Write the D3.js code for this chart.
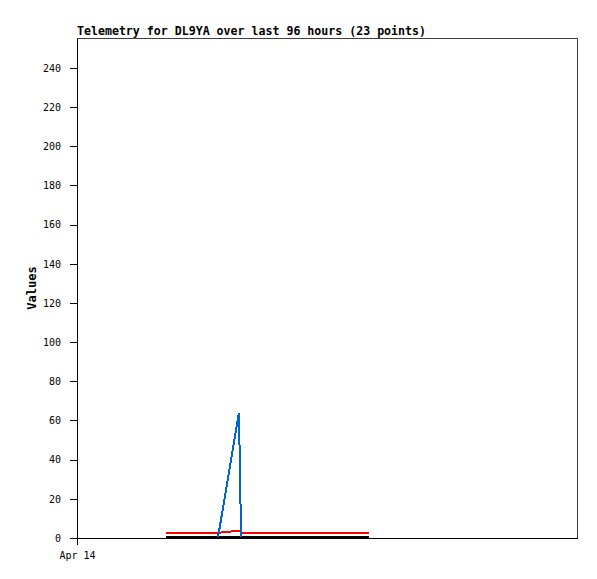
<!DOCTYPE html>
<html><head><meta charset="utf-8">
<script src="https://cdn.jsdelivr.net/npm/d3@7"></script>
<style>body{margin:0;background:#fff}svg{display:block}</style>
</head><body>
<svg id="c" width="597" height="579"></svg>
<script>
// hours since Apr 14 00:00
const hours = [17.1,19.0,21.0,23.0,25.0,27.1,28.0,29.0,30.1,31.1,31.5,31.7,33.5,35.5,37.5,39.5,41.5,43.5,46.0,48.5,51.0,53.5,56.1];
const blueVals = [null,null,null,null,null,0.7,null,null,null,64,0.7,null,null,null,null,null,null,null,null,null,null,null,null];
const redVals = [2.5,2.5,2.5,2.5,2.5,2.5,3.0,3.0,3.6,3.6,3.6,2.5,2.5,2.5,2.5,2.5,2.5,2.5,2.5,2.5,2.5,2.5,2.5];
const blackVals = [0.3,0.3,0.3,0.3,0.3,0.3,0.3,0.3,0.3,0.3,0.3,0.3,0.3,0.3,0.3,0.3,0.3,0.3,0.3,0.3,0.3,0.3,0.3];
const yTicks = [0,20,40,60,80,100,120,140,160,180,200,220,240];
const xTickLabels = ["Apr 14"];
const titleText = "Telemetry for DL9YA over last 96 hours (23 points)";

const t0 = new Date(2024,3,14,0,0,0);
const times = hours.map(h => new Date(t0.getTime() + h*3600e3));
const L=77,R=577,T=38,B=538;
const svg = d3.select("#c");
const x = d3.scaleTime().domain([t0, new Date(t0.getTime()+96*3600e3)]).range([L,R]);
const y = d3.scaleLinear().domain([0,255.3]).range([B,T]);
const mono = "'DejaVu Sans Mono', monospace";

// frame top/right
svg.append("path").attr("d",`M${L},${T+0.5}H${R+0.5}V${B}`).attr("fill","none").attr("stroke","#404040").attr("shape-rendering","crispEdges");

// y axis
const ya = svg.append("g").attr("transform",`translate(${L},0)`)
  .call(d3.axisLeft(y).tickValues(yTicks).tickSize(7).tickPadding(9).tickSizeOuter(0));
ya.select(".domain").attr("stroke","#000").attr("shape-rendering","crispEdges");
ya.selectAll(".tick line").attr("stroke","#000").attr("shape-rendering","crispEdges");
ya.selectAll("text").attr("font-family",mono).attr("font-size","10px").attr("fill","#000");

// x axis
const xa = svg.append("g").attr("transform",`translate(0,${B})`)
  .call(d3.axisBottom(x).tickValues([t0]).tickFormat((d,i)=>xTickLabels[i]).tickSize(7).tickPadding(7).tickSizeOuter(0));
xa.select(".domain").attr("stroke","#000").attr("shape-rendering","crispEdges");
xa.selectAll(".tick line").attr("stroke","#000").attr("shape-rendering","crispEdges");
xa.selectAll("text").attr("font-family",mono).attr("font-size","10px").attr("fill","#000");

// series: connect the points that are present
function draw(vals,color){
  const pts = vals.map((v,i)=>[times[i],v]).filter(p=>p[1]!==null);
  const line = d3.line().x(p=>x(p[0])).y(p=>y(p[1]));
  svg.append("path").datum(pts).attr("d",line).attr("fill","none").attr("stroke",color)
    .attr("stroke-width",2).attr("shape-rendering","crispEdges");
}
draw(blackVals,"#000000");
draw(redVals,"#ff0000");
draw(blueVals,"#0066cc");

// title
svg.append("text").attr("x",L).attr("y",35).text(titleText)
  .attr("font-family",mono).attr("font-size","11.6px").attr("font-weight","bold");
// y label
svg.append("text").attr("transform",`translate(36,${(T+B)/2}) rotate(-90)`).attr("text-anchor","middle")
  .text("Values").attr("font-family",mono).attr("font-size","12px").attr("font-weight","bold");
</script>
</body></html>
